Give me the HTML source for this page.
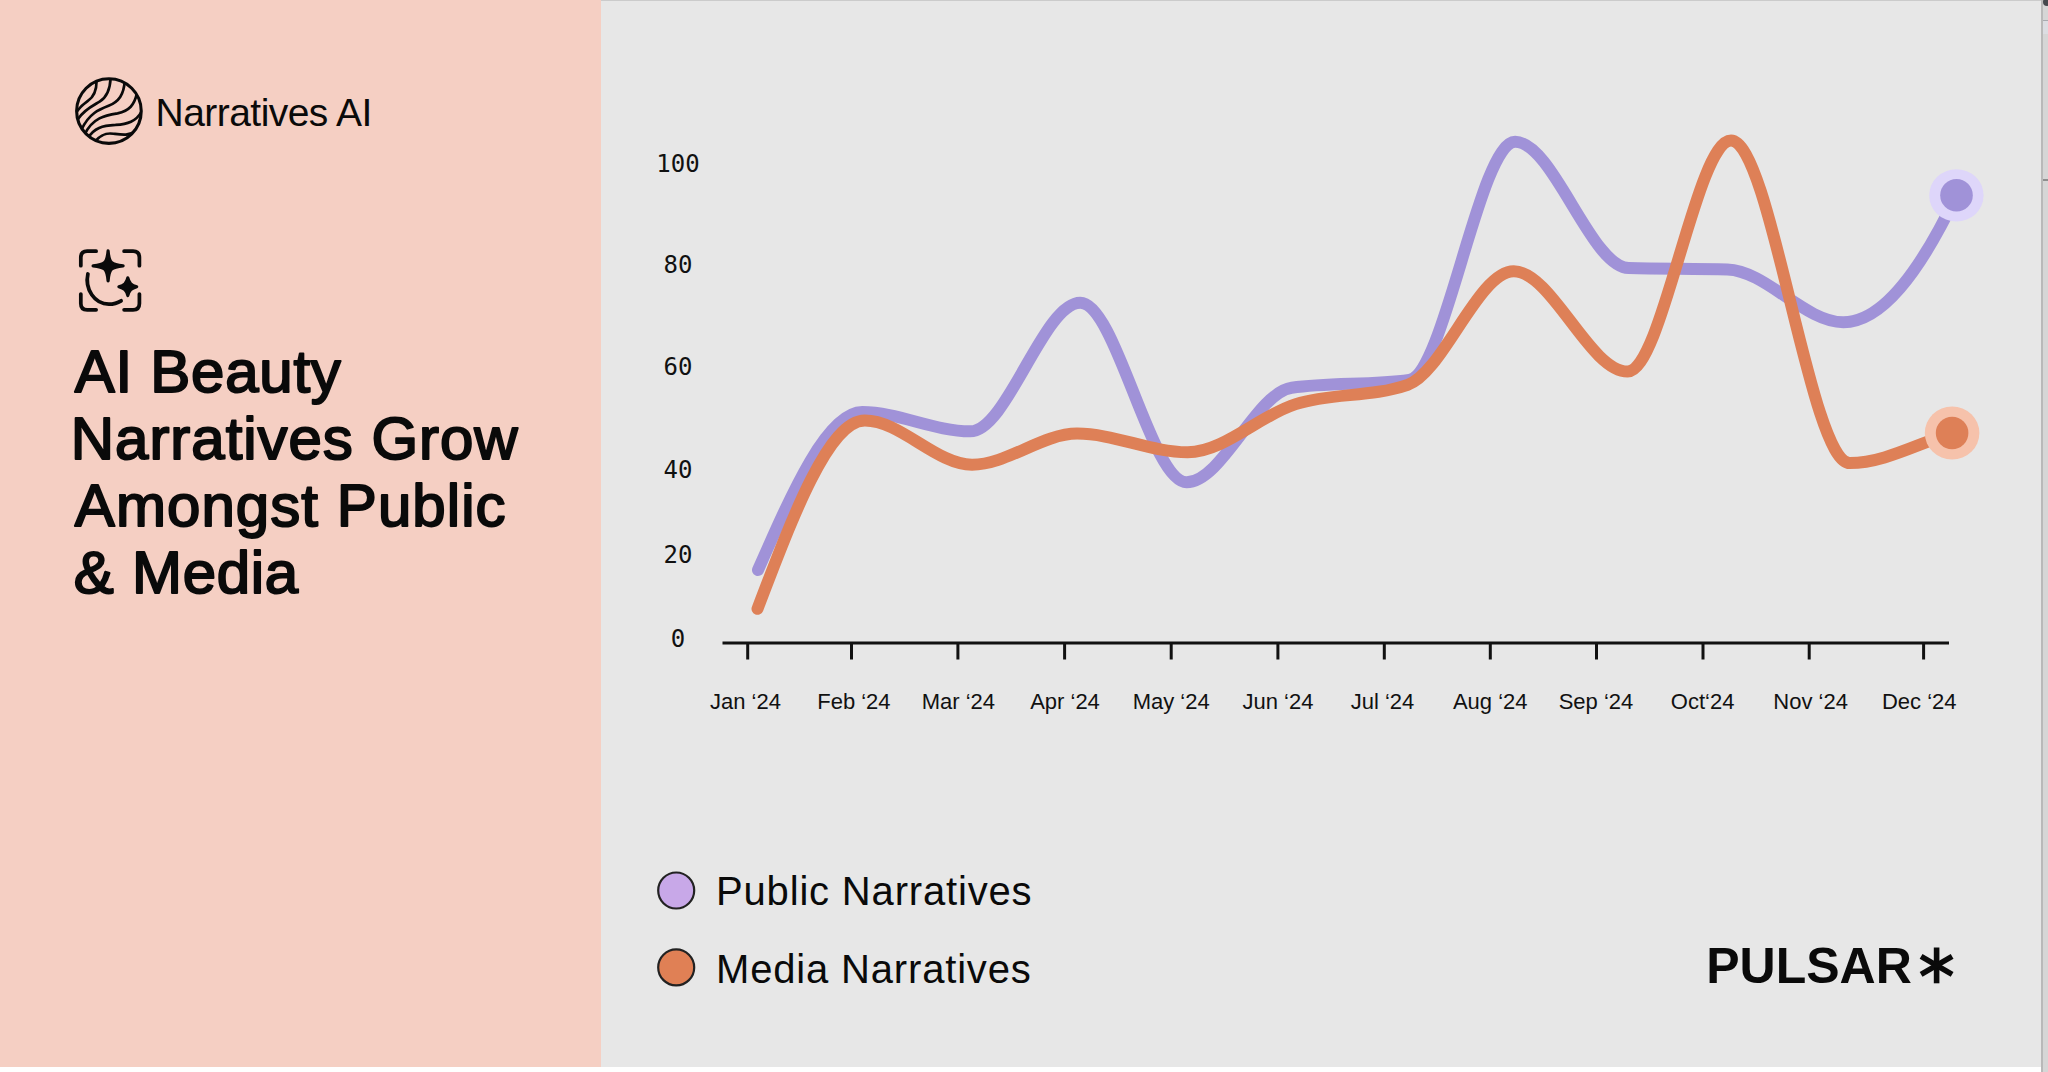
<!DOCTYPE html>
<html><head><meta charset="utf-8"><title>AI Beauty Narratives Grow Amongst Public &amp; Media</title>
<style>
html,body{margin:0;padding:0;width:2048px;height:1072px;overflow:hidden;background:#fff}
#left{position:absolute;left:0;top:0;width:601px;height:1067px;background:#f5cfc3}
#right{position:absolute;left:601px;top:0;width:1440px;height:1067px;background:#e7e7e7;border-top:1px solid #cbcbcb;box-sizing:border-box}
#strip{position:absolute;left:2041px;top:0;width:7px;height:1072px;background:#d6d6d6;border-left:2px solid #b9b9b9;box-sizing:border-box}
#strip .knob{position:absolute;left:0;top:-2px;width:8px;height:8px;border-radius:50%;background:#45484d}
#strip .seg{position:absolute;left:0;top:20px;width:6px;height:1px;background:#a9aab0}
#strip .seg2{position:absolute;left:0;top:21px;width:6px;height:13px;background:#dcdde2}
#strip .seg3{position:absolute;left:0;top:179px;width:6px;height:2px;background:#8e8e8e}
svg{position:absolute;left:0;top:0}
.xl{font-family:"Liberation Sans",Arial,sans-serif;font-size:22px;fill:#111}
.yl{font-family:"DejaVu Sans Mono","Liberation Mono",monospace;font-size:24px;fill:#111}
.lg{font-family:"Liberation Sans",Arial,sans-serif;font-size:40px;letter-spacing:0.83px;fill:#0a0a0a}
.pl{font-family:"Liberation Sans",Arial,sans-serif;font-weight:bold;font-size:50px;fill:#0a0a0a}
.brand{font-family:"Liberation Sans",Arial,sans-serif;font-size:39px;letter-spacing:-0.55px;fill:#0a0a0a}
.ttl{font-family:"Liberation Sans",Arial,sans-serif;font-size:60px;fill:#0a0a0a;stroke:#0a0a0a;stroke-width:2px;stroke-linejoin:round}
</style></head>
<body>
<div id="left"></div>
<div id="right"></div>
<div id="strip"><div class="knob"></div><div class="seg"></div><div class="seg2"></div><div class="seg3"></div></div>
<svg width="2048" height="1072" viewBox="0 0 2048 1072">
<line x1="722.5" y1="643" x2="1949" y2="643" stroke="#111" stroke-width="3"/>
<line x1="747.7" y1="643" x2="747.7" y2="659.5" stroke="#111" stroke-width="3"/>
<line x1="851.5" y1="643" x2="851.5" y2="659.5" stroke="#111" stroke-width="3"/>
<line x1="957.9" y1="643" x2="957.9" y2="659.5" stroke="#111" stroke-width="3"/>
<line x1="1064.6" y1="643" x2="1064.6" y2="659.5" stroke="#111" stroke-width="3"/>
<line x1="1171.2" y1="643" x2="1171.2" y2="659.5" stroke="#111" stroke-width="3"/>
<line x1="1277.9" y1="643" x2="1277.9" y2="659.5" stroke="#111" stroke-width="3"/>
<line x1="1384.3" y1="643" x2="1384.3" y2="659.5" stroke="#111" stroke-width="3"/>
<line x1="1490.3" y1="643" x2="1490.3" y2="659.5" stroke="#111" stroke-width="3"/>
<line x1="1596.5" y1="643" x2="1596.5" y2="659.5" stroke="#111" stroke-width="3"/>
<line x1="1703" y1="643" x2="1703" y2="659.5" stroke="#111" stroke-width="3"/>
<line x1="1809.2" y1="643" x2="1809.2" y2="659.5" stroke="#111" stroke-width="3"/>
<line x1="1923.6" y1="643" x2="1923.6" y2="659.5" stroke="#111" stroke-width="3"/>
<text x="745.4" y="709.3" text-anchor="middle" class="xl">Jan ‘24</text>
<text x="853.9" y="709.3" text-anchor="middle" class="xl">Feb ‘24</text>
<text x="958.4" y="709.3" text-anchor="middle" class="xl">Mar ‘24</text>
<text x="1065" y="709.3" text-anchor="middle" class="xl">Apr ‘24</text>
<text x="1171.2" y="709.3" text-anchor="middle" class="xl">May ‘24</text>
<text x="1277.9" y="709.3" text-anchor="middle" class="xl">Jun ‘24</text>
<text x="1382.5" y="709.3" text-anchor="middle" class="xl">Jul ‘24</text>
<text x="1490.2" y="709.3" text-anchor="middle" class="xl">Aug ‘24</text>
<text x="1596" y="709.3" text-anchor="middle" class="xl">Sep ‘24</text>
<text x="1702.6" y="709.3" text-anchor="middle" class="xl">Oct‘24</text>
<text x="1810.6" y="709.3" text-anchor="middle" class="xl">Nov ‘24</text>
<text x="1919.2" y="709.3" text-anchor="middle" class="xl">Dec ‘24</text>
<text x="678" y="172.3" text-anchor="middle" class="yl">100</text>
<text x="678" y="273.1" text-anchor="middle" class="yl">80</text>
<text x="678" y="375.3" text-anchor="middle" class="yl">60</text>
<text x="678" y="478.3" text-anchor="middle" class="yl">40</text>
<text x="678" y="563.4" text-anchor="middle" class="yl">20</text>
<text x="678" y="647" text-anchor="middle" class="yl">0</text>
<path d="M758.00 570.00 C792.75 491.06 827.50 412.12 862.25 412.12 C898.23 412.12 934.21 431.34 970.19 431.34 C1006.89 431.34 1043.60 302.84 1080.30 302.84 C1115.75 302.84 1151.20 482.27 1186.64 482.27 C1221.67 482.27 1256.69 392.49 1291.71 387.79 C1330.82 382.55 1369.92 385.17 1409.03 379.92 C1444.41 375.18 1479.79 141.86 1515.17 141.86 C1552.98 141.86 1590.79 267.02 1628.59 268.07 C1661.50 268.98 1694.41 268.52 1727.32 269.43 C1765.99 270.50 1804.66 322.27 1843.32 322.27 C1881.02 322.27 1918.71 274.17 1956.40 195.50" fill="none" stroke="#a092d8" stroke-width="12" stroke-linecap="round" stroke-linejoin="round"/>
<path d="M757.50 608.80 C793.29 514.64 829.09 420.49 864.88 420.49 C900.61 420.49 936.33 464.70 972.05 464.70 C1007.10 464.70 1042.15 433.62 1077.20 433.62 C1113.99 433.62 1150.78 452.23 1187.57 452.23 C1223.63 452.23 1259.69 415.34 1295.75 404.13 C1333.07 392.52 1370.38 397.68 1407.70 384.80 C1443.04 372.59 1478.38 271.36 1513.73 271.36 C1551.69 271.36 1589.65 371.57 1627.61 371.57 C1662.08 371.57 1696.55 140.57 1731.02 140.57 C1770.58 140.57 1810.14 463.10 1849.70 463.10 C1883.90 463.10 1918.10 443.37 1952.30 433.00" fill="none" stroke="#de8057" stroke-width="12" stroke-linecap="round" stroke-linejoin="round"/>
<ellipse cx="1956.4" cy="195.4" rx="27.2" ry="26.2" fill="#ded6fa"/><circle cx="1956.5" cy="195.3" r="16.3" fill="#a092d8"/>
<ellipse cx="1952.1" cy="433" rx="27.3" ry="26.6" fill="#f6c2ab"/><circle cx="1952.1" cy="433" r="16.3" fill="#de8057"/>
<circle cx="676.2" cy="890.5" r="18" fill="#c8a8e8" stroke="#222" stroke-width="2.2"/>
<circle cx="676.2" cy="967.4" r="18" fill="#e08055" stroke="#222" stroke-width="2.2"/>
<text x="716" y="905.2" class="lg">Public Narratives</text>
<text x="716" y="983" class="lg">Media Narratives</text>
<text x="1706.2" y="983.3" class="pl">PULSAR</text>
<line x1="1936.60" y1="947.50" x2="1936.60" y2="983.30" stroke="#0a0a0a" stroke-width="5.6"/>
<line x1="1921.10" y1="956.45" x2="1952.10" y2="974.35" stroke="#0a0a0a" stroke-width="5.6"/>
<line x1="1921.10" y1="974.35" x2="1952.10" y2="956.45" stroke="#0a0a0a" stroke-width="5.6"/>
<text x="155.6" y="125.5" class="brand">Narratives AI</text>
<text x="74.8" y="391.8" class="ttl" style="letter-spacing:0.73px">AI Beauty</text>
<text x="70.8" y="458.9" class="ttl" style="letter-spacing:0.96px">Narratives Grow</text>
<text x="74.8" y="526.3" class="ttl" style="letter-spacing:1.07px">Amongst Public</text>
<text x="73.8" y="593.3" class="ttl" style="letter-spacing:0.72px">&amp; Media</text>
<g transform="translate(72 74) scale(0.06903)">
<defs><clipPath id="lc"><circle cx="535" cy="537" r="468"/></clipPath></defs>
<circle cx="535" cy="537" r="468" fill="none" stroke="#0a0a0a" stroke-width="45"/>
<g clip-path="url(#lc)" fill="none" stroke="#0a0a0a" stroke-width="39" stroke-linecap="round">
<path d="M355 60 C365 230 320 330 230 390 C160 440 110 480 60 560"/>
<path d="M560 40 C555 240 500 340 400 400 C300 460 170 520 90 650"/>
<path d="M765 100 C750 300 680 400 530 460 C390 515 250 570 140 800"/>
<path d="M940 280 C905 450 830 530 660 570 C480 600 300 630 180 880"/>
<path d="M1010 540 C930 690 800 725 630 738 C440 748 320 780 230 930"/>
<path d="M930 820 C830 900 720 880 600 865 C500 850 420 870 330 980"/>
</g></g>
<g transform="translate(70 240) scale(0.074627)" fill="none" stroke="#0a0a0a" stroke-width="50" stroke-linecap="round" stroke-linejoin="round">
<path d="M145 345 L145 235 Q145 150 230 150 L350 150"/>
<path d="M725 150 L845 150 Q930 150 930 235 L930 345"/>
<path d="M145 725 L145 850 Q145 935 230 935 L350 935"/>
<path d="M725 935 L845 935 Q930 935 930 850 L930 725"/>
<path d="M240 455 C195 660 330 860 520 860 C590 860 640 843 685 815"/>


</g>
<path fill="#0a0a0a" stroke="#0a0a0a" stroke-linejoin="round" stroke-width="3.2" d="M108.1 250.8 C109.1 262.8 111.1 264.8 123.1 265.8 C111.1 266.9 109.1 268.8 108.1 280.8 C107.0 268.8 105.1 266.9 93.1 265.8 C105.1 264.8 107.0 262.8 108.1 250.8 Z"/>
<path fill="#0a0a0a" stroke="#0a0a0a" stroke-linejoin="round" stroke-width="3" d="M127.8 277.7 C129.2 283.1 131.4 285.3 136.8 286.7 C131.4 288.1 129.2 290.3 127.8 295.7 C126.5 290.3 124.2 288.1 118.8 286.7 C124.2 285.3 126.5 283.1 127.8 277.7 Z"/>
</svg>
</body></html>
